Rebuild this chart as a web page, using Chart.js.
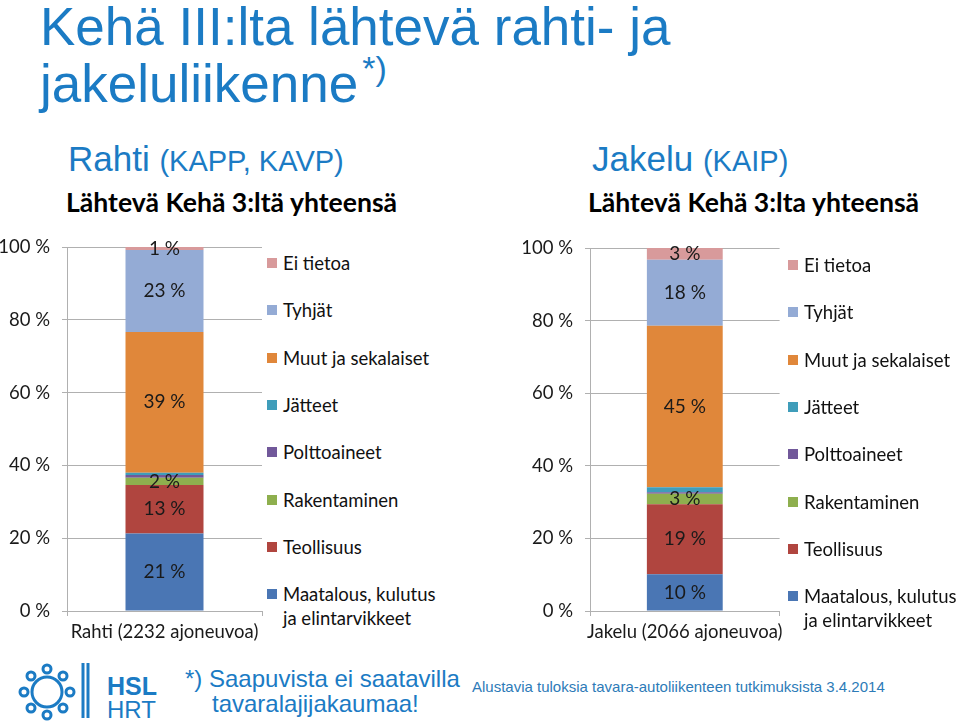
<!DOCTYPE html>
<html lang="fi">
<head>
<meta charset="UTF-8">
<title>Kehä III:lta lähtevä rahti- ja jakeluliikenne</title>
<script src="https://cdn.jsdelivr.net/npm/chart.js"></script>
<style>
    body { margin: 0; padding: 0; background: #fff; }
    .slide { position: relative; width: 959px; height: 726px; overflow: hidden; background: #fff; font-family: "Liberation Sans", Arial, sans-serif; color: #1b7bc4; }
    .abs { position: absolute; white-space: nowrap; }
    .title { left: 40px; font-size: 53px; line-height: 57px; }
    .title sup { position: relative; top: -22px; margin-left: 4px; font-size: 34px; vertical-align: baseline; line-height: 0; }
    .sub { font-size: 35px; }
    .sub small { font-size: 29px; }
    .ctitle { font-family: Lato, "Open Sans", sans-serif; font-weight: bold; font-size: 26.6px; color: #000; }
    .chartbox { position: absolute; }
    .legend { position: absolute; font-family: Lato, "Open Sans", sans-serif; font-size: 18.5px; color: #111; }
    .legend .item { position: absolute; left: 0; display: flex; align-items: flex-start; white-space: pre; line-height: 24px; }
    .legend .box { width: 10px; height: 10px; margin: 7px 6px 0 0; flex: none; }
    .note { font-size: 24px; }
    .src { font-size: 15px; color: #2d7bb8; }
</style>
</head>
<body>
<div class="slide">
    <div class="abs title" style="top:-2px;">Kehä III:lta lähtevä rahti- ja</div>
    <div class="abs title" style="top:55px;">jakeluliikenne<sup>*)</sup></div>

    <div class="abs sub" style="left:68px; top:139px;">Rahti <small>(KAPP, KAVP)</small></div>
    <div class="abs sub" style="left:592px; top:139px;">Jakelu <small>(KAIP)</small></div>

    <div class="abs ctitle" style="left:66px; top:186px;">Lähtevä Kehä 3:ltä yhteensä</div>
    <div class="abs ctitle" style="left:588px; top:186px;">Lähtevä Kehä 3:lta yhteensä</div>

    <div class="chartbox" style="left:0; top:224px;"><canvas id="rahti" width="265" height="426"></canvas></div>
    <div class="chartbox" style="left:523px; top:225px;"><canvas id="jakelu" width="266" height="425"></canvas></div>
    <div class="legend" id="legendRahti" style="left:267px; top:251px;"></div>
    <div class="legend" id="legendJakelu" style="left:788px; top:253px;"></div>

    <!-- logo -->
    <svg class="abs" style="left:18px; top:660px;" width="150" height="64" viewBox="0 0 150 64">
        <g fill="none" stroke="#1b7bc4" stroke-width="3">
            <circle cx="29" cy="32" r="15"/>
            <circle cx="29" cy="9" r="4"/><circle cx="29" cy="55" r="4"/>
            <circle cx="6" cy="32" r="4"/><circle cx="52" cy="32" r="4"/>
            <circle cx="13" cy="16" r="4"/><circle cx="45" cy="16" r="4"/>
            <circle cx="13" cy="48" r="4"/><circle cx="45" cy="48" r="4"/>
            <line x1="65" y1="3" x2="65" y2="58"/><line x1="70" y1="3" x2="70" y2="58"/>
        </g>
        <text x="89" y="35" font-family="Liberation Sans, Arial" font-weight="bold" font-size="25" fill="#1b7bc4">HSL</text>
        <text x="89" y="58" font-family="Liberation Sans, Arial" font-size="24" fill="#1b7bc4">HRT</text>
    </svg>
    <div class="abs note" style="left:185px; top:665px;">*) Saapuvista ei saatavilla</div>
    <div class="abs note" style="left:212px; top:690px;">tavaralajijakaumaa!</div>
    <div class="abs src" style="left:472px; top:678px;">Alustavia tuloksia tavara-autoliikenteen tutkimuksista 3.4.2014</div>
</div>

<script>
    // sarjat alhaalta ylös
    const seriesNames = ['Maatalous, kulutus\nja elintarvikkeet', 'Teollisuus', 'Rakentaminen', 'Polttoaineet', 'Jätteet', 'Muut ja sekalaiset', 'Tyhjät', 'Ei tietoa'];
    const seriesColors = ['#4a76b4', '#b0453f', '#8eaf4e', '#71589a', '#3f9dba', '#e0873a', '#94abd5', '#d89a9b'];
    const showLabel = [true, true, true, false, false, true, true, true];

    const rahtiCategory = ['Rahti (2232 ajoneuvoa)'];
    const rahtiValues = [21.3, 13.3, 2.0, 0.8, 0.6, 38.7, 22.5, 0.8];

    const jakeluCategory = ['Jakelu (2066 ajoneuvoa)'];
    const jakeluValues = [10.1, 19.3, 2.9, 0.4, 1.4, 44.5, 18.2, 3.2];

    const yTicks = [0, 20, 40, 60, 80, 100];

    const labelFont = 'Lato, "Open Sans", sans-serif';
    const gridColor = '#b0b0b0';

    // prosenttiluvut palkkien keskelle
    const segmentLabels = {
        id: 'segmentLabels',
        afterDatasetsDraw(chart) {
            const ctx = chart.ctx;
            ctx.save();
            ctx.font = '19px ' + labelFont;
            ctx.fillStyle = '#1a1a1a';
            ctx.textAlign = 'center';
            ctx.textBaseline = 'middle';
            chart.data.datasets.forEach((ds, i) => {
                if (!showLabel[i]) return;
                chart.getDatasetMeta(i).data.forEach((bar, j) => {
                    const p = bar.getProps(['x', 'y', 'base'], true);
                    ctx.fillText(Math.round(ds.data[j]) + ' %', p.x, (p.y + p.base) / 2);
                });
            });
            ctx.restore();
        }
    };

    function makeChart(id, legendId, category, values) {
        const chart = new Chart(document.getElementById(id), {
            type: 'bar',
            data: {
                labels: category,
                datasets: seriesNames.map((name, i) => ({
                    label: name,
                    data: [values[i]],
                    backgroundColor: seriesColors[i],
                    borderWidth: 0,
                    barPercentage: 0.4,
                    categoryPercentage: 1
                }))
            },
            options: {
                responsive: false,
                animation: false,
                layout: { padding: { top: 0, right: 3, left: 0, bottom: 0 } },
                plugins: { legend: { display: false }, tooltip: { enabled: false } },
                scales: {
                    x: {
                        stacked: true,
                        grid: { drawOnChartArea: false, color: gridColor, tickLength: 5 },
                        border: { color: gridColor },
                        ticks: { color: '#1a1a1a', font: { family: labelFont, size: 18.5 }, padding: 5 },
                        afterFit(scale) { scale.height = 39; }
                    },
                    y: {
                        stacked: true,
                        min: 0,
                        max: 100,
                        afterBuildTicks(scale) { scale.ticks = yTicks.map(v => ({ value: v })); },
                        grid: { color: gridColor, tickLength: 5 },
                        border: { color: gridColor },
                        ticks: { color: '#1a1a1a', font: { family: labelFont, size: 18.5 }, padding: 12, callback: v => v + ' %' },
                        afterFit(scale) { scale.width = 67; }
                    }
                }
            },
            plugins: [segmentLabels]
        });

        // selite ylhäältä alas
        const items = chart.options.plugins.legend.labels.generateLabels(chart).reverse();
        const legend = document.getElementById(legendId);
        items.forEach((it, k) => {
            const row = document.createElement('div');
            row.className = 'item';
            row.style.top = (k * 47.3) + 'px';
            row.innerHTML = '<span class="box" style="background:' + it.fillStyle + '"></span><span></span>';
            row.lastChild.textContent = it.text;
            legend.appendChild(row);
        });
        return chart;
    }

    makeChart('rahti', 'legendRahti', rahtiCategory, rahtiValues);
    makeChart('jakelu', 'legendJakelu', jakeluCategory, jakeluValues);
</script>
</body>
</html>
